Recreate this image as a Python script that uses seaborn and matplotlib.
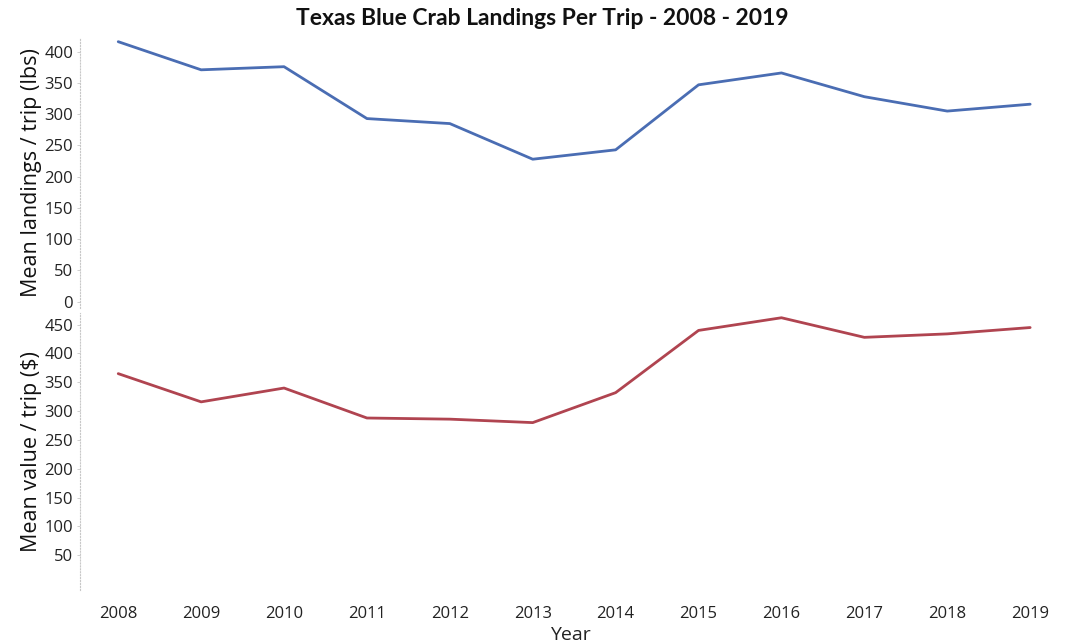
import matplotlib
matplotlib.use("Agg")
import matplotlib.pyplot as plt
import seaborn as sns
import pandas as pd

# data
years = [2008, 2009, 2010, 2011, 2012, 2013, 2014, 2015, 2016, 2017, 2018, 2019]
landings_lbs = [416, 371, 376, 293, 285, 228, 243, 347, 366, 328, 305, 316]
value_usd = [365, 316, 340, 288, 286, 280, 332, 440, 462, 428, 434, 445]

top_ticks = [0, 50, 100, 150, 200, 250, 300, 350, 400]
bottom_ticks = [50, 100, 150, 200, 250, 300, 350, 400, 450]

df = pd.DataFrame({'Year': years, 'lbs': landings_lbs, 'usd': value_usd})

sns.set_theme(style="white")
plt.rcParams['font.family'] = ['Open Sans', 'DejaVu Sans']

fig = plt.figure(figsize=(10.68, 6.43), dpi=100)
ax1 = fig.add_axes([0.075, 0.521, 0.9175, 0.42])
ax2 = fig.add_axes([0.075, 0.082, 0.9175, 0.431])

sns.lineplot(data=df, x='Year', y='lbs', ax=ax1, color='#4a6db3', linewidth=2.0)
sns.lineplot(data=df, x='Year', y='usd', ax=ax2, color='#b04450', linewidth=2.0)

for ax in (ax1, ax2):
    ax.set_xlim(2007.54, 2019.36)
    for s in ['top', 'right', 'bottom']:
        ax.spines[s].set_visible(False)
    ax.spines['left'].set_linestyle(':')
    ax.spines['left'].set_color('#c8c8c8')
    ax.spines['left'].set_linewidth(0.8)
    ax.tick_params(axis='y', left=True, length=2, width=0.6, color='#c8c8c8',
                   labelsize=12, labelcolor='#222222', pad=3)
    ax.set_facecolor('white')

ax1.set_ylim(-10, 422)
ax1.set_yticks(top_ticks)
ax1.set_xticks([])
ax1.set_xlabel('')
ax1.set_ylabel('Mean landings / trip (lbs)', fontsize=15.5, color='#111111', labelpad=2)

ax2.set_ylim(-11, 470)
ax2.set_yticks(bottom_ticks)
ax2.set_xticks(years)
ax2.set_xticklabels([str(y) for y in years])
ax2.tick_params(axis='x', bottom=False, labelsize=12, labelcolor='#222222', pad=5)
ax2.set_xlabel('Year', fontsize=14, color='#222222', labelpad=3)
ax2.set_ylabel('Mean value / trip ($)', fontsize=15.5, color='#111111', labelpad=2)

fig.suptitle('Texas Blue Crab Landings Per Trip - 2008 - 2019', x=0.508, y=0.988,
             fontsize=16.5, fontweight='bold', color='#111111',
             family=['Lato', 'DejaVu Sans'])

fig.savefig('out.png', dpi=100, facecolor='white')
